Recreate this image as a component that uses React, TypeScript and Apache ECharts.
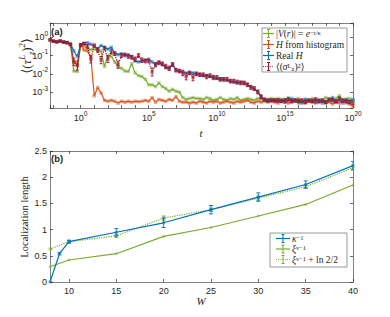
import React, { useEffect, useRef } from 'react';
import * as echarts from 'echarts';

// ---------- Panel (a): exponents log10(t) and log10 of the four quantities ----------
const logT = [
  -2.25, -2, -1.75, -1.5, -1.25, -1, -0.75, -0.5, -0.25, 0,
  0.25, 0.5, 0.75, 1, 1.25, 1.5, 1.75, 2, 2.25, 2.5,
  2.75, 3, 3.25, 3.5, 3.75, 4, 4.25, 4.5, 4.75, 5,
  5.25, 5.5, 5.75, 6, 6.25, 6.5, 6.75, 7, 7.25, 7.5,
  7.75, 8, 8.25, 8.5, 8.75, 9, 9.25, 9.5, 9.75, 10,
  10.25, 10.5, 10.75, 11, 11.25, 11.5, 11.75, 12, 12.25, 12.5,
  12.75, 13, 13.25, 13.5, 13.75, 14, 14.25, 14.5, 14.75, 15,
  15.25, 15.5, 15.75, 16, 16.25, 16.5, 16.75, 17, 17.25, 17.5,
  17.75, 18, 18.25, 18.5, 18.75, 19, 19.25, 19.5, 19.75, 20,
];

// |V(r)| = e^{-r/kappa}  (green)
const logVr = [
  -0.14, -0.22, -0.25, -0.22, -0.26, -0.3, -0.4, -1.85, -1.87, -0.42,
  -0.5, -0.6, -0.68, -0.65, -0.72, -0.75, -1.6, -1.0, -1.05, -1.35,
  -1.6, -1.7, -1.85, -1.87, -1.45, -1.95, -2.1, -2.15, -2.3, -2.6,
  -2.6, -2.7, -2.5, -2.7, -2.8, -2.95, -2.85, -2.95, -3.0, -3.3,
  -3.4, -3.35, -3.3, -3.35, -3.35, -3.4, -3.3, -3.35, -3.45, -3.4,
  -3.3, -3.4, -3.45, -3.35, -3.4, -3.3, -3.45, -3.4, -3.35, -3.4,
  -3.45, -3.35, -3.4, -3.45, -3.4, -3.35, -3.4, -3.35, -3.45, -3.4,
  -3.3, -3.45, -3.4, -3.35, -3.5, -3.4, -3.45, -3.35, -3.4, -3.5,
  -3.45, -3.3, -3.4, -3.45, -3.35, -3.2, -3.45, -3.4, -3.35, -3.45,
];

// H from histogram (orange)
const logHist = [
  -0.14, -0.22, -0.25, -0.22, -0.26, -0.3, -0.38, -1.3, -1.5, -0.42,
  -0.7, -0.75, -1.1, -3.2, -2.75, -3.05, -3.45, -3.5, -3.45, -3.5,
  -3.6, -3.5, -3.55, -3.5, -3.55, -3.5, -3.52, -3.5, -3.45, -3.5,
  -3.3, -3.55, -3.4, -3.45, -3.5, -3.4, -3.45, -3.25, -3.5, -3.55,
  -3.55, -3.6, -3.55, -3.6, -3.5, -3.55, -3.6, -3.5, -3.55, -3.5,
  -3.6, -3.55, -3.5, -3.55, -3.6, -3.5, -3.55, -3.5, -3.45, -3.55,
  -3.6, -3.5, -3.55, -3.5, -3.55, -3.5, -3.55, -3.6, -3.5, -3.55,
  -3.6, -3.55, -3.5, -3.6, -3.55, -3.6, -3.5, -3.55, -3.6, -3.55,
  -3.5, -3.6, -3.55, -3.65, -3.55, -3.6, -3.5, -3.6, -3.65, -3.78,
];

// Real H (blue)
const logRealH = [
  -0.14, -0.2, -0.25, -0.22, -0.25, -0.28, -0.35, -0.75, -1.05, -0.4,
  -0.32, -0.3, -0.38, -0.5, -0.62, -0.45, -0.55, -0.65, -0.55, -0.85,
  -0.95, -0.9, -1.0, -0.95, -1.05, -1.3, -1.35, -1.3, -1.25, -1.2,
  -1.35, -1.5, -1.35, -1.5, -1.65, -1.7, -1.45, -1.8, -1.85, -1.9,
  -1.95, -1.95, -1.95, -2.0, -2.05, -2.1, -2.1, -2.15, -2.2, -2.25,
  -2.3, -2.3, -2.35, -2.4, -2.45, -2.5, -2.45, -2.5, -2.6, -2.7,
  -2.85, -2.95, -3.25, -3.45, -3.5, -3.45, -3.45, -3.5, -3.4, -3.55,
  -3.45, -3.35, -3.5, -3.45, -3.6, -3.4, -3.5, -3.45, -3.55, -3.4,
  -3.6, -3.5, -3.45, -3.3, -3.55, -3.45, -3.6, -3.4, -3.5, -3.4,
];

// <(sigma_z^L)^2> (dark red, dotted)
const logSigma = [
  -0.14, -0.22, -0.25, -0.2, -0.27, -0.3, -0.4, -1.35, -1.55, -0.42,
  -0.35, -0.5, -1.2, -0.45, -0.7, -1.25, -0.6, -1.2, -0.8, -0.9,
  -1.5, -1.0, -0.95, -1.05, -1.1, -1.2, -1.0, -1.25, -1.3, -1.3,
  -1.9, -1.5, -1.4, -1.45, -1.6, -1.7, -1.5, -1.8, -1.85, -1.95,
  -2.15, -1.95, -2.2, -2.0, -2.05, -2.05, -2.15, -2.1, -2.2, -2.2,
  -2.3, -2.3, -2.3, -2.4, -2.4, -2.45, -2.5, -2.5, -2.6, -2.75,
  -2.8, -3.0, -3.25, -3.4, -3.45, -3.45, -3.45, -3.45, -3.5, -3.45,
  -3.4, -3.5, -3.45, -3.5, -3.45, -3.55, -3.45, -3.5, -3.4, -3.5,
  -3.45, -3.55, -3.4, -3.45, -3.5, -3.35, -3.45, -3.5, -3.55, -3.6,
];

// half error bar (log10 units) of the red series
const sigmaErr = [
  0.04, 0.04, 0.04, 0.04, 0.04, 0.05, 0.06, 0.2, 0.25, 0.06,
  0.06, 0.1, 0.2, 0.08, 0.12, 0.2, 0.1, 0.18, 0.12, 0.1,
  0.2, 0.1, 0.08, 0.1, 0.1, 0.12, 0.1, 0.12, 0.1, 0.1,
  0.22, 0.12, 0.1, 0.1, 0.12, 0.12, 0.1, 0.1, 0.1, 0.15,
  0.18, 0.1, 0.18, 0.1, 0.1, 0.1, 0.12, 0.1, 0.12, 0.1,
  0.1, 0.1, 0.1, 0.1, 0.1, 0.1, 0.1, 0.1, 0.1, 0.1,
  0.1, 0.1, 0.1, 0.08, 0.08, 0.08, 0.08, 0.08, 0.08, 0.08,
  0.08, 0.08, 0.08, 0.08, 0.08, 0.08, 0.08, 0.08, 0.08, 0.08,
  0.08, 0.08, 0.08, 0.08, 0.08, 0.08, 0.08, 0.08, 0.08, 0.08,
];

// ---------- Panel (b) ----------
const W = [8, 9, 10, 15, 20, 25, 30, 35, 40];
const kappaInv = [0, 0.54, 0.77, 0.95, 1.13, 1.38, 1.62, 1.86, 2.22];
const kappaErr = [0, 0.02, 0.03, 0.07, 0.09, 0.08, 0.08, 0.07, 0.08];
const Wxi = [8, 10, 15, 20, 25, 30, 35, 40];
const xiNu = [0.29, 0.42, 0.54, 0.87, 1.04, 1.26, 1.48, 1.85];
const xiNuShift = [0.63, 0.77, 0.88, 1.22, 1.38, 1.6, 1.82, 2.18];
const xiShiftErr = [0.01, 0.02, 0.03, 0.04, 0.03, 0.04, 0.03, 0.04];

const C = { green: '#77AC30', orange: '#D95319', blue: '#0072BD', red: '#A2142F' };
const AX = '#808080';
const TXT = '#262626';
const SANS = '"Liberation Sans", Arial, sans-serif';
const SERIF = '"Liberation Serif", "DejaVu Serif", serif';

const zip = (xs: number[], ys: number[]) => xs.map((x, i) => [x, ys[i]]);
const isInt = (v: number) => Math.abs(v - Math.round(v)) < 1e-6;

function errSeries(xi: number, yi: number, xs: number[], ys: number[], es: number[], color: string, cap: number, z: number) {
  return {
    type: 'custom',
    xAxisIndex: xi,
    yAxisIndex: yi,
    silent: true,
    clip: true,
    z,
    data: xs.map((x, i) => [x, ys[i] - es[i], ys[i] + es[i]]),
    encode: { x: 0, y: [1, 2] },
    renderItem: (_p: any, api: any) => {
      const x = api.value(0);
      const a = api.coord([x, api.value(1)]);
      const b = api.coord([x, api.value(2)]);
      const st = { stroke: color, lineWidth: 0.9 };
      return {
        type: 'group',
        children: [
          { type: 'line', shape: { x1: a[0], y1: a[1], x2: b[0], y2: b[1] }, style: st },
          { type: 'line', shape: { x1: a[0] - cap, y1: a[1], x2: a[0] + cap, y2: a[1] }, style: st },
          { type: 'line', shape: { x1: b[0] - cap, y1: b[1], x2: b[0] + cap, y2: b[1] }, style: st },
        ],
      };
    },
  };
}

function lineSeries(xi: number, yi: number, data: number[][], color: string, dotted: boolean, z: number, sym = 3.5) {
  return {
    type: 'line',
    xAxisIndex: xi,
    yAxisIndex: yi,
    data,
    z,
    symbol: 'rect',
    symbolSize: sym,
    showSymbol: true,
    itemStyle: { color, opacity: 0.5 },
    lineStyle: { color, width: 1.2, type: dotted ? 'dotted' : 'solid' },
    emphasis: { disabled: true },
  };
}

const supRich = {
  b: { fontSize: 9, lineHeight: 15, color: TXT, fontFamily: SANS },
  s: { fontSize: 6.5, lineHeight: 8, verticalAlign: 'top', color: TXT, fontFamily: SANS },
};

const tick = { show: true, inside: true, length: 3, lineStyle: { color: TXT, width: 0.7 } };
const line = { show: true, onZero: false, lineStyle: { color: AX, width: 1 } };

const legendRich = {
  i: { fontStyle: 'italic', fontSize: 9.5, fontFamily: SERIF, fill: TXT },
  sup: { fontSize: 6.5, fontFamily: SERIF, fill: TXT, verticalAlign: 'top', lineHeight: 7 },
  sub: { fontSize: 6.5, fontFamily: SERIF, fill: TXT, verticalAlign: 'bottom', lineHeight: 7 },
};

function legendRow(x0: number, x1: number, y: number, color: string, dotted: boolean, text: string, textX: number) {
  const xm = (x0 + x1) / 2;
  const st = { stroke: color, lineWidth: 1 };
  const z = 30;
  const lineStyle: any = { stroke: color, lineWidth: 1.2 };
  if (dotted) lineStyle.lineDash = [1, 1.2];
  return [
    { type: 'line', z, shape: { x1: x0, y1: y, x2: x1, y2: y }, style: lineStyle },
    { type: 'line', z, shape: { x1: xm, y1: y - 4, x2: xm, y2: y + 4 }, style: st },
    { type: 'line', z, shape: { x1: xm - 1.5, y1: y - 4, x2: xm + 1.5, y2: y - 4 }, style: st },
    { type: 'line', z, shape: { x1: xm - 1.5, y1: y + 4, x2: xm + 1.5, y2: y + 4 }, style: st },
    {
      type: 'text', z, x: textX, y,
      style: {
        text, fontSize: 9.5, fontFamily: SERIF, fill: TXT, verticalAlign: 'middle', align: 'left',
        rich: legendRich,
      },
    },
  ];
}

export default function App() {
  const ref = useRef<HTMLDivElement>(null);
  useEffect(() => {
    if (!ref.current) return;
    const chart = echarts.init(ref.current, null, { renderer: 'svg' });
    const option: any = {
      animation: false,
      backgroundColor: '#ffffff',
      grid: [
        { left: 50, top: 23, width: 303, height: 85 },
        { left: 50, top: 151, width: 303, height: 131 },
      ],
      xAxis: [
        {
          type: 'value', gridIndex: 0, position: 'bottom', min: -2.25, max: 20, minInterval: 1, maxInterval: 1,
          axisLine: line, axisTick: tick, splitLine: { show: false },
          axisLabel: {
            margin: 2, rich: supRich,
            formatter: (v: number) => (isInt(v) && Math.round(v) % 5 === 0 ? `{b|10}{s|${Math.round(v)}}` : ''),
          },
        },
        {
          type: 'value', gridIndex: 0, position: 'top', min: -2.25, max: 20, minInterval: 1, maxInterval: 1,
          axisLine: line, axisTick: tick, splitLine: { show: false }, axisLabel: { show: false },
        },
        {
          type: 'value', gridIndex: 1, position: 'bottom', min: 8, max: 40, minInterval: 5, maxInterval: 5,
          axisLine: line, axisTick: tick, splitLine: { show: false },
          axisLabel: {
            margin: 4, fontSize: 9, color: TXT, fontFamily: SANS,
            formatter: (v: number) => (isInt(v) && Math.round(v) % 5 === 0 ? String(Math.round(v)) : ''),
          },
        },
        {
          type: 'value', gridIndex: 1, position: 'top', min: 8, max: 40, minInterval: 5, maxInterval: 5,
          axisLine: line, axisTick: tick, splitLine: { show: false }, axisLabel: { show: false },
        },
      ],
      yAxis: [
        {
          type: 'value', gridIndex: 0, position: 'left', min: -3.87, max: 0.78, minInterval: 1, maxInterval: 1,
          axisLine: line, axisTick: tick, splitLine: { show: false },
          axisLabel: {
            margin: 2, rich: supRich,
            formatter: (v: number) => (isInt(v) ? `{b|10}{s|${Math.round(v)}}` : ''),
          },
        },
        {
          type: 'value', gridIndex: 0, position: 'right', min: -3.87, max: 0.78, minInterval: 1, maxInterval: 1,
          axisLine: line, axisTick: tick, splitLine: { show: false }, axisLabel: { show: false },
        },
        {
          type: 'value', gridIndex: 1, position: 'left', min: 0, max: 2.5, interval: 0.5,
          axisLine: line, axisTick: tick, splitLine: { show: false },
          axisLabel: { margin: 3, fontSize: 9, color: TXT, fontFamily: SANS },
        },
        {
          type: 'value', gridIndex: 1, position: 'right', min: 0, max: 2.5, interval: 0.5,
          axisLine: line, axisTick: tick, splitLine: { show: false }, axisLabel: { show: false },
        },
      ],
      series: [
        lineSeries(0, 0, zip(logT, logVr), C.green, false, 2),
        lineSeries(0, 0, zip(logT, logHist), C.orange, false, 3),
        lineSeries(0, 0, zip(logT, logRealH), C.blue, false, 4),
        lineSeries(0, 0, zip(logT, logSigma), C.red, true, 5),
        errSeries(0, 0, logT, logSigma, sigmaErr, C.red, 1.5, 6),

        lineSeries(2, 2, zip(Wxi, xiNu), C.green, false, 2, 2.5),
        lineSeries(2, 2, zip(Wxi, xiNuShift), C.green, true, 3, 3),
        errSeries(2, 2, Wxi, xiNuShift, xiShiftErr, C.green, 2, 3),
        lineSeries(2, 2, zip(W, kappaInv), C.blue, false, 4, 3),
        errSeries(2, 2, W, kappaInv, kappaErr, C.blue, 2, 5),
      ],
      graphic: [
        { type: 'text', x: 51, y: 31, style: { text: '(a)', fontSize: 9.5, fontWeight: 'bold', fontFamily: SANS, fill: TXT, verticalAlign: 'middle' } },
        { type: 'text', x: 51, y: 158, style: { text: '(b)', fontSize: 9.5, fontWeight: 'bold', fontFamily: SANS, fill: TXT, verticalAlign: 'middle' } },
        { type: 'text', x: 201, y: 133, style: { text: 't', fontSize: 11, fontStyle: 'italic', fontFamily: SERIF, fill: TXT, align: 'center', verticalAlign: 'middle' } },
        { type: 'text', x: 201, y: 301, style: { text: 'W', fontSize: 11, fontStyle: 'italic', fontFamily: SERIF, fill: TXT, align: 'center', verticalAlign: 'middle' } },
        {
          type: 'text', x: 26, y: 56, rotation: Math.PI / 2,
          style: {
            text: '⟨({i|τ}{sup|L}{sub|z}){sup|2}⟩', fontSize: 13, fontFamily: SERIF, fill: TXT, align: 'center', verticalAlign: 'middle',
            rich: {
              i: { fontStyle: 'italic', fontSize: 13, fontFamily: SERIF, fill: TXT, lineHeight: 18 },
              sup: { fontSize: 8.5, fontFamily: SERIF, fill: TXT, verticalAlign: 'top', lineHeight: 9, fontStyle: 'italic' },
              sub: { fontSize: 8.5, fontFamily: SERIF, fill: TXT, verticalAlign: 'bottom', lineHeight: 9, fontStyle: 'italic' },
            },
          },
        },
        {
          type: 'text', x: 24, y: 217, rotation: Math.PI / 2,
          style: { text: 'Localization length', fontSize: 10.5, fontFamily: SERIF, fill: TXT, align: 'center', verticalAlign: 'middle' },
        },
        { type: 'rect', z: 20, shape: { x: 262, y: 28, width: 85, height: 44 }, style: { fill: '#fff', stroke: AX, lineWidth: 0.8 } },
        ...legendRow(263, 274, 33.5, C.green, false, '|{i|V}({i|r})| = {i|e}{sup|−r/κ}', 276),
        ...legendRow(263, 274, 44.5, C.orange, false, '{i|H} from histogram', 276),
        ...legendRow(263, 274, 55.5, C.blue, false, 'Real {i|H}', 276),
        ...legendRow(263, 274, 66.5, C.red, true, '⟨({i|σ}{sup|L}{sub|z}){sup|2}⟩', 276),
        { type: 'rect', z: 20, shape: { x: 270, y: 233, width: 77, height: 34 }, style: { fill: '#fff', stroke: AX, lineWidth: 0.8 } },
        ...legendRow(276, 290, 238.5, C.blue, false, '{i|κ}{sup|−1}', 292),
        ...legendRow(276, 290, 249, C.green, false, '{i|ξ}{sup|ν−1}', 292),
        ...legendRow(276, 290, 259.5, C.green, true, '{i|ξ}{sup|ν−1} + ln 2/2', 292),
      ],
    };
    chart.setOption(option);
    return () => chart.dispose();
  }, []);
  return <div ref={ref} style={{ position: 'absolute', left: 0, top: 0, width: 390, height: 317 }} />;
}
